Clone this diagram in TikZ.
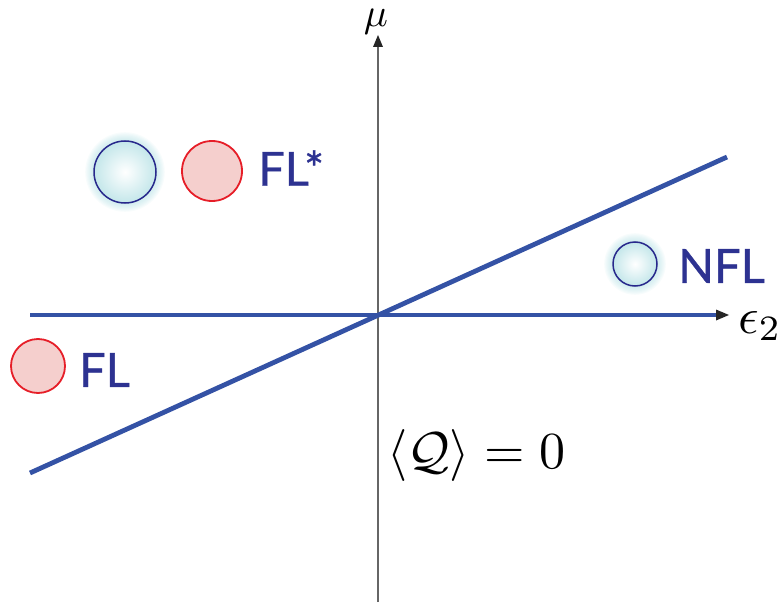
\documentclass[tikz,border=0pt]{standalone}
\usepackage{fontspec}
\newfontfamily\labelfont[FakeBold=0.8]{Lato}
\usetikzlibrary{arrows.meta}
\definecolor{lineblue}{RGB}{52,82,165}
\definecolor{textblue}{RGB}{45,50,145}
\definecolor{ringblue}{RGB}{40,40,140}
\definecolor{glow}{RGB}{170,220,225}
\definecolor{redring}{RGB}{230,30,40}
\definecolor{redfill}{RGB}{245,207,205}
\tikzset{
  axisline/.style={draw=black!60, line width=1.3pt},
  phaseline/.style={draw=lineblue, line width=4.8pt},
  redcirc/.style={circle, draw=redring, line width=1.8pt, fill=redfill, inner sep=0pt},
  bluecirc/.style={circle, draw=ringblue, line width=1.5pt, inner sep=0pt, inner color=white, outer color=glow!70},
  phaselabel/.style={text=textblue, font=\labelfont\fontsize{47}{50}\selectfont, anchor=west, inner sep=0pt},
  mathlabel/.style={inner sep=0pt}
}
\newcommand{\glowat}[2]{%
  \foreach \k in {1,...,8} {\fill[glow, opacity=0.085] (#1) circle ({#2+1.1*\k});}%
}
\newcommand{\mylarge}[2]{\scalebox{#1}{#2}}
\begin{document}
\begin{tikzpicture}[x=1pt,y=-1pt]
\useasboundingbox (0,0) rectangle (779,607);
% axes
\coordinate (vbot) at (378,602);
\coordinate (vtop) at (378,45);
\coordinate (vtip) at (378,35);
\draw[axisline] (vbot) -- (vtop);
\fill[black!85] (vtip) -- (373,47) -- (383,47) -- cycle;
\coordinate (hleft) at (30,315);
\coordinate (hmid) at (718,315);
\coordinate (htip) at (729,315);
\draw[phaseline] (hleft) -- (hmid);
\fill[black!85] (htip) -- (716,309.5) -- (716,320.5) -- cycle;
\coordinate (dleft) at (30,473);
\coordinate (dright) at (727,157);
\draw[phaseline] (dleft) -- (dright);
% labels
\node[mathlabel, anchor=base] (mu) at (376,27) {\mylarge{4.0}{$\mu$}};
\node[mathlabel, anchor=base west] (eps) at (738,333) {\mylarge{5.1}{$\epsilon_2$}};
\node[mathlabel, anchor=base west] (Q) at (387,468) {\mylarge{5.2}{$\langle\mathcal{Q}\rangle=0$}};
% FL* region
\glowat{125,172}{31}
\node[bluecirc, minimum size=62pt] (b1) at (125,172) {};
\node[redcirc, minimum size=60pt] (r1) at (212,171) {};
\node[phaselabel] (flstar) at (258,168) {FL*};
% NFL
\glowat{635,264}{22}
\node[bluecirc, minimum size=44pt] (b2) at (635,264) {};
\node[phaselabel] (nfl) at (678,266) {NFL};
% FL
\node[redcirc, minimum size=54pt] (r2) at (38,366) {};
\node[phaselabel] (fl) at (79,370) {FL};
\end{tikzpicture}
\end{document}
